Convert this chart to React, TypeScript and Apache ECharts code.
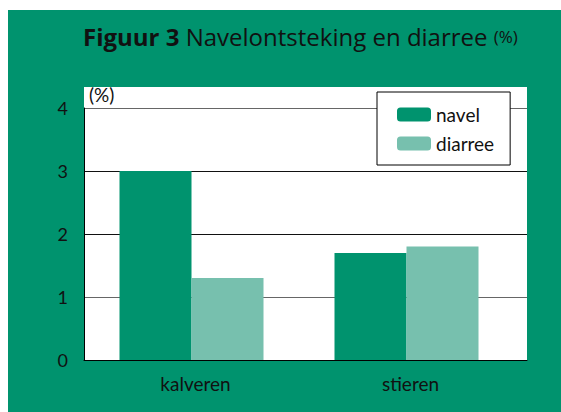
import React, { useEffect, useRef } from "react";
import * as echarts from "echarts";

const categories = ["kalveren", "stieren"];
const navel = [3.0, 1.7];
const diarree = [1.3, 1.8];
const seriesNames = ["navel", "diarree"];
const yTicks = [0, 1, 2, 3, 4];

const GREEN = "#00936e";
const LIGHT = "#77c0ae";
const FONT = "Lato, 'Open Sans', sans-serif";
const TFONT = "'Open Sans', Lato, sans-serif";

export default function App() {
  const ref = useRef<HTMLDivElement>(null);
  useEffect(() => {
    if (!ref.current) return;
    const chart = echarts.init(ref.current, undefined, { renderer: "svg" });
    chart.setOption({
      animation: false,
      backgroundColor: "#ffffff",
      textStyle: { fontFamily: FONT },
      graphic: [
        { type: "rect", z: -10, shape: { x: 8, y: 10, width: 553, height: 402 }, style: { fill: GREEN } },
        { type: "rect", z: -9, shape: { x: 84, y: 87, width: 443, height: 274 }, style: { fill: "#ffffff" } },
      ],
      title: {
        left: 78,
        top: 19,
        text: "{b|Figuur 3 }{n|Navelontsteking en diarree }{s|(%)}",
        textStyle: {
          fontWeight: "normal",
          rich: {
            b: { fontFamily: TFONT, fontWeight: "bold", fontSize: 24, color: "#111" },
            n: { fontFamily: TFONT, fontWeight: "normal", fontSize: 24, color: "#111" },
            s: { fontFamily: TFONT, fontWeight: "normal", fontSize: 17, color: "#111" },
          },
        },
      },
      legend: {
        data: seriesNames,
        orient: "vertical",
        left: 377,
        top: 92,
        width: 134,
        backgroundColor: "#ffffff",
        borderColor: "#000000",
        borderWidth: 1,
        padding: [13, 16, 12, 20],
        itemWidth: 34,
        itemHeight: 14,
        itemGap: 10,
        textStyle: { fontFamily: FONT, fontSize: 19, color: "#111", lineHeight: 14 },
      },
      grid: [
        { left: 84, top: 108, width: 443, height: 252 },
        { left: 84, top: 108, width: 430, height: 252 },
      ],
      xAxis: [
        {
          gridIndex: 0,
          type: "category",
          data: categories,
          axisLine: { show: true, lineStyle: { color: "#000", width: 1 } },
          axisTick: { show: false },
          axisLabel: { show: false },
        },
        {
          gridIndex: 1,
          type: "category",
          data: categories,
          axisLine: { show: false },
          axisTick: { show: false },
          axisLabel: { fontFamily: FONT, fontSize: 19, color: "#111", margin: 14, padding: [0, 0, 0, 8] },
        },
      ],
      yAxis: [
        {
          gridIndex: 0,
          type: "value",
          min: yTicks[0],
          max: yTicks[yTicks.length - 1],
          interval: 1,
          name: "(%)",
          nameLocation: "end",
          nameGap: 4,
          nameTextStyle: { fontFamily: FONT, fontSize: 19, color: "#111", align: "left", verticalAlign: "bottom", padding: [0, 0, 0, 5] },
          axisLine: { show: true, lineStyle: { color: "#000", width: 1 } },
          axisTick: { show: false },
          axisLabel: { fontFamily: FONT, fontSize: 18, color: "#111", margin: 16 },
          splitLine: { show: true, lineStyle: { color: ["#000", "#666", "#111", "#111", "#666"], width: 1 } },
        },
        {
          gridIndex: 1,
          type: "value",
          min: yTicks[0],
          max: yTicks[yTicks.length - 1],
          interval: 1,
          show: false,
          splitLine: { show: false },
        },
      ],
      series: [
        {
          name: seriesNames[0],
          type: "bar",
          xAxisIndex: 1,
          yAxisIndex: 1,
          data: navel,
          barWidth: 72,
          barGap: "0%",
          itemStyle: { color: GREEN },
        },
        {
          name: seriesNames[1],
          type: "bar",
          xAxisIndex: 1,
          yAxisIndex: 1,
          data: diarree,
          barWidth: 72,
          barGap: "0%",
          itemStyle: { color: LIGHT },
        },
      ],
    });
    return () => chart.dispose();
  }, []);
  return (
    <div
      ref={ref}
      style={{ position: "absolute", left: 0, top: 0, width: 561, height: 412 }}
    />
  );
}
